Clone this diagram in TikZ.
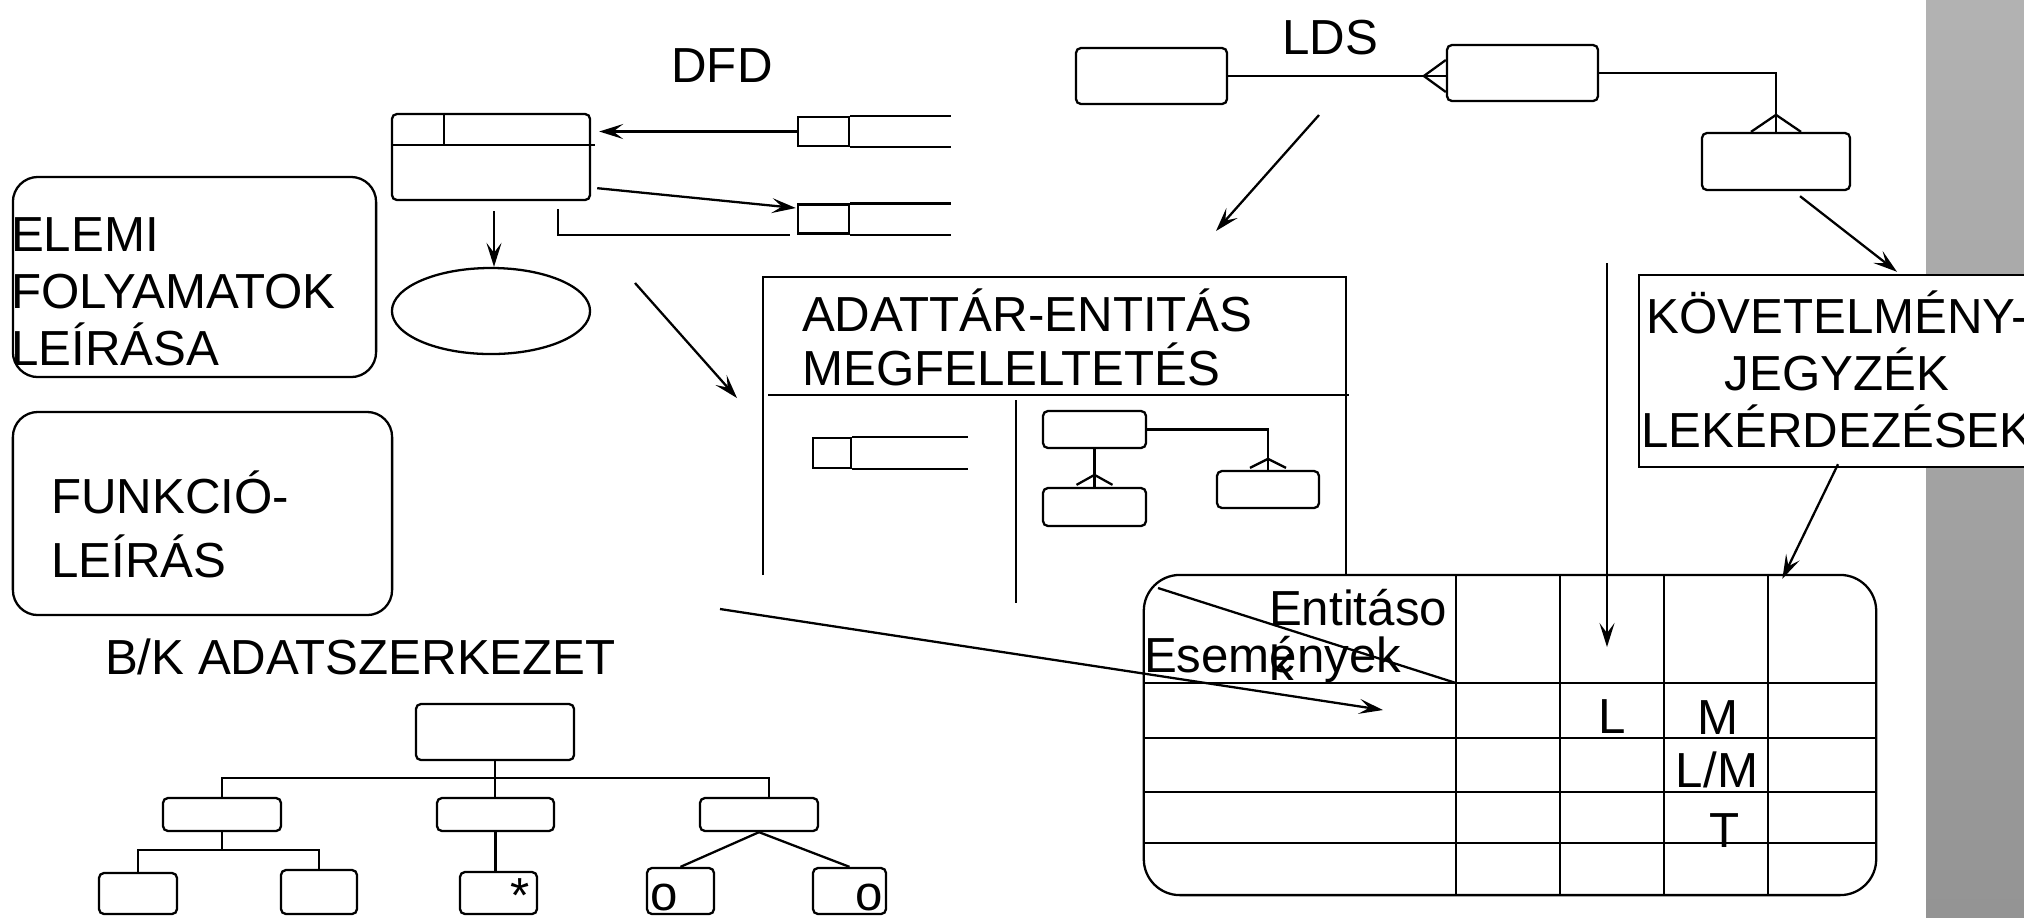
\documentclass[tikz,border=0pt]{standalone}
\usepackage{fontspec}
\setmainfont{Liberation Sans}
\usetikzlibrary{arrows.meta,positioning,calc,shapes.geometric}

\tikzset{
    rbox/.style={draw, rounded corners=0.05cm, inner sep=0pt},
    storebox/.style={draw, inner sep=0pt, minimum width=0.51cm, minimum height=0.29cm},
    txt/.style={inner sep=0pt, font=\fontsize{14}{16.2}\selectfont},
    arr/.style={-{Stealth[length=0.24cm, width=0.15cm, inset=0.1cm]}}
}

\begin{document}
\begin{tikzpicture}[x=0.01cm, y=-0.01cm, line width=0.65pt]
    \useasboundingbox (0,0) rectangle (2024,917);
    \clip (0,0) rectangle (2024,917);
    % grey strip at the right
    \shade[top color=black!30, bottom color=black!42] (1926,0) rectangle (2024,917);

    % titles
    \node[txt, anchor=base] (dfdlbl) at (722,82) {DFD};
    \node[txt, anchor=base] (ldslbl) at (1330,54) {LDS};

    % DFD
    \node[rbox, minimum width=1.98cm, minimum height=0.86cm] (proc) at (491,157) {};
    \draw ($(proc.north west)+(0,32)$) -- ++(204,0);
    \draw ($(proc.north west)+(53,0)$) -- ++(0,32);
    \node[storebox] (st1) at (823.5,131.5) {};
    \draw (st1.north east) -- ++(101,0) (st1.south east) -- ++(101,0);
    \node[storebox] (st2) at (823.5,219) {};
    \draw (st2.north east) -- ++(101,0) (st2.south east) -- ++(101,0);
    \node[draw, ellipse, inner sep=0pt, minimum width=1.98cm, minimum height=0.86cm] (ell) at (491,311) {};
    \draw[arr] (st1.west) -- ($(st1.west -| proc.east)+(8,0)$);
    \draw[arr] ($(proc.south east)+(6,-13)$) -- ($(st2.west)+(-1,-11)$);
    \draw ($(proc.south)+(67,8)$) |- ($(st2.south west)+(-7,0)$);
    \draw[arr] ($(proc.south)+(3,10)$) -- ($(ell.north)+(3,0)$);

    % left boxes
    \node[rbox, rounded corners=0.25cm, minimum width=3.63cm, minimum height=2cm] (elemi) at (194.5,277) {};
    \node[txt, anchor=base west, align=left] (elemitxt) at (10,365) {ELEMI\\FOLYAMATOK\\LEÍRÁSA};
    \node[rbox, rounded corners=0.25cm, minimum width=3.79cm, minimum height=2.03cm] (funk) at (202.5,513.5) {};
    \node[txt, anchor=base west, align=left, font=\fontsize{14}{18.2}\selectfont] (funktxt) at (50,577) {FUNKCIÓ-\\LEÍRÁS};

    % LDS
    \node[rbox, minimum width=1.51cm, minimum height=0.56cm] (lds1) at (1151.5,76) {};
    \node[rbox, minimum width=1.51cm, minimum height=0.56cm] (lds2) at (1522.5,73) {};
    \node[rbox, minimum width=1.48cm, minimum height=0.57cm] (lds3) at (1776,161.5) {};
    \coordinate (cf1) at (lds1.east -| lds2.west);
    \draw (lds1.east) -- (cf1);
    \draw ($(cf1)+(0,-16)$) -- ($(cf1)+(-22,0)$) -- ($(cf1)+(0,16)$);
    \draw (lds2.east) -| (lds3.north);
    \draw ($(lds3.north)+(-25,0)$) -- ($(lds3.north)+(0,-17)$) -- ($(lds3.north)+(25,0)$);

    % adattar - entitas
    \draw (763,575) -- (763,277) -- (1346,277) -- (1346,575);
    \draw (768,395) -- (1349,395);
    \draw (1016,400) -- (1016,603);
    \node[txt, anchor=base west, align=left, font=\fontsize{14}{15.1}\selectfont] (adtxt) at (801,385) {ADATTÁR-ENTITÁS\\MEGFELELTETÉS};
    \node[draw, inner sep=0pt, minimum width=0.38cm, minimum height=0.30cm] (st3) at (832,453) {};
    \draw (st3.north east) -- ++(116,0) (st3.south east) -- ++(116,0);
    \node[rbox, minimum width=1.03cm, minimum height=0.37cm] (erA) at (1094.5,429.5) {};
    \node[rbox, minimum width=1.03cm, minimum height=0.38cm] (erB) at (1094.5,507) {};
    \node[rbox, minimum width=1.02cm, minimum height=0.37cm] (erC) at (1268,489.5) {};
    \draw (erA.east) -| (erC.north);
    \draw (erA.south) -- (erB.north);
    \draw ($(erB.north)+(-18,-2)$) -- ($(erB.north)+(0,-12)$) -- ($(erB.north)+(18,-2)$);
    \draw ($(erC.north)+(-18,-2)$) -- ($(erC.north)+(0,-11)$) -- ($(erC.north)+(18,-2)$);

    % kovetelmenyjegyzek
    \node[draw, fill=white, inner sep=0pt, minimum width=3.96cm, minimum height=1.92cm] (kov) at (1837,371) {};
    \node[txt, anchor=base, align=center] (kovtxt) at (1837,447) {KÖVETELMÉNY-\\JEGYZÉK\\LEKÉRDEZÉSEK};

    % entitas-esemeny matrix
    \node[draw, rounded corners=0.36cm, inner sep=0pt, minimum width=7.32cm, minimum height=3.2cm] (mtx) at (1510,735) {};
    \foreach \cx in {1456,1560,1664,1768}
        \draw (\cx,575) -- (\cx,895);
    \foreach \ry in {683,738,792,843}
        \draw (1144,\ry) -- (1876,\ry);
    \draw (1158,588) -- (1456,683);
    \node[txt, anchor=base west, align=left, font=\fontsize{14}{15.6}\selectfont] (enttxt) at (1268,680) {Entitáso\\k};
    \node[txt, anchor=base west] (esetxt) at (1143,672) {Események};
    \node[txt, anchor=base] (cl) at (1612,733) {L};
    \node[txt, anchor=base] (cm) at (1718,734) {M};
    \node[txt, anchor=base] (clm) at (1717,787) {L/M};
    \node[txt, anchor=base] (ct) at (1725,847) {T};

    % B/K adatszerkezet
    \node[txt, anchor=base west] (bktxt) at (104,674) {B/K ADATSZERKEZET};
    \node[rbox, minimum width=1.58cm, minimum height=0.56cm] (root) at (495,732) {};
    \node[rbox, minimum width=1.18cm, minimum height=0.33cm] (ch1) at (222,814.5) {};
    \node[rbox, minimum width=1.17cm, minimum height=0.33cm] (ch2) at (495.5,814.5) {};
    \node[rbox, minimum width=1.18cm, minimum height=0.33cm] (ch3) at (759,814.5) {};
    \node[rbox, minimum width=0.78cm, minimum height=0.41cm] (gc1) at (138,893.5) {};
    \node[rbox, minimum width=0.76cm, minimum height=0.44cm] (gc2) at (319,892) {};
    \node[rbox, minimum width=0.77cm, minimum height=0.42cm] (gc3) at (498.5,893) {};
    \node[rbox, minimum width=0.67cm, minimum height=0.46cm] (gc4) at (680.5,891) {};
    \node[rbox, minimum width=0.73cm, minimum height=0.46cm] (gc5) at (849.5,891) {};
    \coordinate (bus1) at (0,778);
    \coordinate (bus2) at (0,850);
    \coordinate (ch3top) at (769,798);
    \draw (root.south) -- (root.south |- ch2.north);
    \draw (ch1.north) -- (ch1.north |- bus1) -| (ch3top);
    \draw (ch1.south) -- (ch1.south |- bus2);
    \draw (gc1.north) |- (gc2.north |- bus2) -- (gc2.north);
    \draw (ch2.south) -- (ch2.south |- gc3.north);
    \draw (ch3.south) -- (gc4.north) (ch3.south) -- (gc5.north);
    \node[txt, anchor=north east, inner sep=2pt] (star) at (gc3.north east) {*};
    \node[txt, anchor=south west, inner sep=1pt] (o1) at (gc4.south west) {o};
    \node[txt, anchor=south east, inner sep=1pt] (o2) at (gc5.south east) {o};

    % arrows between the parts
    \coordinate (dfdout) at (635,283);
    \coordinate (adleft) at (737,398);
    \draw[arr] (dfdout) -- (adleft);
    \coordinate (ldsout) at (1319,115);
    \coordinate (adtop) at (1216,231);
    \draw[arr] (ldsout) -- (adtop);
    \draw[arr] ($(lds3.south)+(24,5)$) -- ($(kov.north)+(60,-2)$);
    \coordinate (vtop) at (1607,263);
    \coordinate (vtip) at (1607,647);
    \draw[arr] (vtop) -- (vtip);
    \draw[arr] ($(kov.south)+(1,-4)$) -- ($(mtx.north east)+(-95,5)$);
    \coordinate (bkout) at (720,609);
    \coordinate (mtxin) at (1383,710);
    \draw[arr] (bkout) -- (mtxin);
\end{tikzpicture}
\end{document}
